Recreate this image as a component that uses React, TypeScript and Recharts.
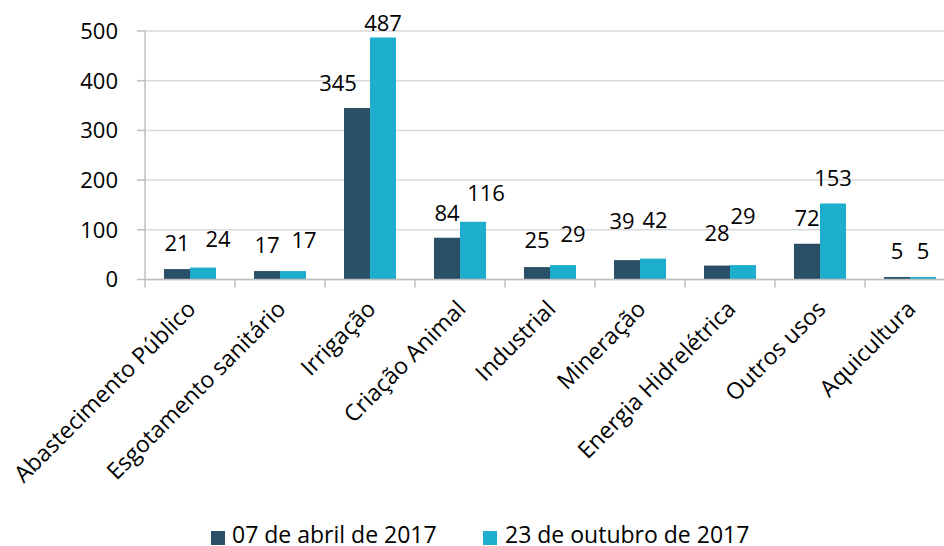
import React from 'react';
import { BarChart, Bar, XAxis, YAxis, CartesianGrid, LabelList, Legend } from 'recharts';

const categories = [
  'Abastecimento Público',
  'Esgotamento sanitário',
  'Irrigação',
  'Criação Animal',
  'Industrial',
  'Mineração',
  'Energia Hidrelétrica',
  'Outros usos',
  'Aquicultura',
];
const abril = [21, 17, 345, 84, 25, 39, 28, 72, 5];
const outubro = [24, 17, 487, 116, 29, 42, 29, 153, 5];
const yTicks = [0, 100, 200, 300, 400, 500];
const seriesNames = ['07 de abril de 2017', '23 de outubro de 2017'];

// label nudges (styling only, pixels)
const abrilNudge: [number, number][] = [[0, 0], [0, 0], [-19, 1], [0, 1], [0, -1], [-5, -13], [0, -7], [0, 0], [0, 0]];
const outubroNudge: [number, number][] = [[15, -3], [11, -5], [0, 12], [13, -3], [10, -5], [2, -13], [0, -23], [0, 1], [0, 0]];

const DARK = '#295067';
const CYAN = '#1DAECE';
const FONT = '"Open Sans", sans-serif';

const data = categories.map((c, i) => ({ name: c, abril: abril[i], outubro: outubro[i] }));

const makeLabel = (nudges: [number, number][]) => (props: any) => {
  const vb = props.viewBox ?? {};
  const x = props.x ?? vb.x;
  const y = props.y ?? vb.y;
  const width = props.width ?? vb.width;
  const idx = props.index ?? 0;
  const [dx, dy] = nudges[idx] || [0, 0];
  return (
    <text
      x={x + width / 2 + dx}
      y={y - 27 + dy}
      textAnchor="middle"
      dominantBaseline="central"
      fontSize={22}
      fontFamily={FONT}
      fill="#000"
    >
      {props.value}
    </text>
  );
};

const XTick = (props: any) => {
  const { x, y, payload } = props;
  const half = (payload && payload.offset) || 45;
  const ax = x + 7;
  const ay = y + 31;
  return (
    <g>
      <line x1={x - half} y1={y} x2={x - half} y2={y + 8} stroke="#BFBFBF" strokeWidth={1.5} />
      <text
        x={ax}
        y={ay}
        textAnchor="end"
        transform={`rotate(-45, ${ax}, ${ay})`}
        fontSize={23}
        fontFamily={FONT}
        fill="#000"
      >
        {payload.value}
      </text>
    </g>
  );
};

const LegendContent = () => (
  <div style={{ position: 'relative', height: 30, width: 944, fontFamily: FONT, fontSize: 23, lineHeight: '20px', color: '#000' }}>
    <div style={{ position: 'absolute', left: 211, top: 15, width: 14, height: 14, background: DARK }} />
    <span style={{ position: 'absolute', left: 232, top: 8, whiteSpace: 'nowrap' }}>{seriesNames[0]}</span>
    <div style={{ position: 'absolute', left: 483, top: 15, width: 14, height: 14, background: CYAN }} />
    <span style={{ position: 'absolute', left: 505, top: 8, whiteSpace: 'nowrap' }}>{seriesNames[1]}</span>
  </div>
);

export default function App() {
  return (
    <div style={{ position: 'fixed', left: 0, top: 0, width: 944, height: 546, overflow: 'hidden', background: '#fff' }}>
      <BarChart
        width={970}
        height={546}
        data={data}
        margin={{ top: 31, right: 15, left: 0, bottom: 0 }}
        barGap={0}
        barSize={26}
      >
        <CartesianGrid vertical={false} stroke="#D9D9D9" strokeWidth={1.5} />
        <XAxis
          dataKey="name"
          interval={0}
          height={236.5}
          tickSize={0}
          tickMargin={0}
          tickLine={false}
          axisLine={{ stroke: '#BFBFBF', strokeWidth: 1.5 }}
          tick={<XTick />}
        />
        <YAxis
          width={145}
          domain={[0, 500]}
          ticks={yTicks}
          interval={0}
          tickSize={8}
          tickMargin={19}
          axisLine={{ stroke: '#BFBFBF', strokeWidth: 1.5 }}
          tickLine={{ stroke: '#BFBFBF', strokeWidth: 1.5 }}
          tick={{ fontSize: 22, fontFamily: FONT, fill: '#000' }}
        />
        <Legend
          verticalAlign="bottom"
          content={<LegendContent />}
          wrapperStyle={{ left: 0, width: 944, height: 30 }}
        />
        <Bar dataKey="abril" name={seriesNames[0]} fill={DARK} isAnimationActive={false}>
          <LabelList dataKey="abril" content={makeLabel(abrilNudge)} />
        </Bar>
        <Bar dataKey="outubro" name={seriesNames[1]} fill={CYAN} isAnimationActive={false}>
          <LabelList dataKey="outubro" content={makeLabel(outubroNudge)} />
        </Bar>
      </BarChart>
    </div>
  );
}
